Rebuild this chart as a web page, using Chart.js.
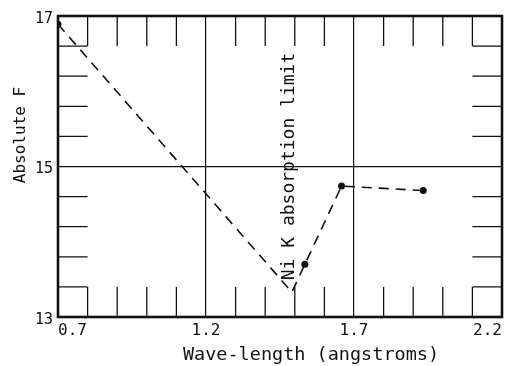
<!DOCTYPE html>
<html>
<head>
<meta charset="utf-8">
<script src="https://cdn.jsdelivr.net/npm/chart.js@4/dist/chart.umd.min.js"></script>
<style>
  html, body { margin: 0; padding: 0; background: #fff; }
  #c { display: block; }
</style>
</head>
<body>
<canvas id="c" width="509" height="366"></canvas>
<script>
// ---- data ----
const curveWave = [0.70, 1.49, 1.534, 1.658, 1.934];   // dashed curve (incl. edge vertex)
const curveF    = [16.89, 13.33, 13.70, 14.74, 14.68];
const measuredWave = [0.70, 1.534, 1.658, 1.934];       // plotted dots
const measuredF    = [16.89, 13.70, 14.74, 14.68];
const xTickLabels = ['0.7', '1.2', '1.7', '2.2'];
const yTickLabels = ['13', '15', '17'];
const xMinorTicks = [0.8, 0.9, 1.0, 1.1, 1.3, 1.4, 1.5, 1.6, 1.8, 1.9, 2.0, 2.1];
const yMinorTicks = [13.4, 13.8, 14.2, 14.6, 15.4, 15.8, 16.2, 16.6];
const edgeLabel = 'Ni K absorption limit';
const edgeLabelX = 1.48;
const xTitle = 'Wave-length (angstroms)';
const yTitle = 'Absolute F';

const FONT = "'DejaVu Sans Mono', 'Liberation Mono', monospace";
const INK = '#111';

const xTickValues = xTickLabels.map(Number);
const yTickValues = yTickLabels.map(Number);

const framePlugin = {
  id: 'frame',
  beforeDatasetsDraw(chart) {
    const { ctx, chartArea: a, scales: { x, y } } = chart;
    const cellX = x.getPixelForValue(0.8) - x.getPixelForValue(0.7);
    const cellY = y.getPixelForValue(13) - y.getPixelForValue(13.4);
    ctx.save();
    ctx.strokeStyle = INK;
    ctx.lineWidth = 1.3;
    ctx.beginPath();
    xMinorTicks.forEach(v => {
      const px = x.getPixelForValue(v);
      ctx.moveTo(px, a.bottom); ctx.lineTo(px, a.bottom - cellY);
      ctx.moveTo(px, a.top); ctx.lineTo(px, a.top + cellY);
    });
    yMinorTicks.forEach(v => {
      const py = y.getPixelForValue(v);
      ctx.moveTo(a.left, py); ctx.lineTo(a.left + cellX, py);
      ctx.moveTo(a.right, py); ctx.lineTo(a.right - cellX, py);
    });
    ctx.stroke();
    ctx.lineWidth = 2.6;
    ctx.strokeRect(a.left, a.top, a.right - a.left, a.bottom - a.top);
    ctx.restore();
  },
  afterDraw(chart) {
    const { ctx, chartArea: a, scales: { x, y } } = chart;
    ctx.save();
    ctx.fillStyle = INK;
    // edge annotation
    ctx.save();
    ctx.translate(x.getPixelForValue(edgeLabelX), (a.top + a.bottom) / 2);
    ctx.rotate(-Math.PI / 2);
    ctx.font = '18px ' + FONT;
    ctx.textAlign = 'center';
    ctx.textBaseline = 'middle';
    ctx.fillText(edgeLabel, 0, 0);
    ctx.restore();
    // y title
    ctx.save();
    ctx.translate(21, 135);
    ctx.rotate(-Math.PI / 2);
    ctx.font = '16px ' + FONT;
    ctx.textAlign = 'center';
    ctx.textBaseline = 'middle';
    ctx.fillText(yTitle, 0, 0);
    ctx.restore();
    // x title
    ctx.font = '18.5px ' + FONT;
    ctx.textAlign = 'center';
    ctx.textBaseline = 'alphabetic';
    ctx.fillText(xTitle, 311, 360);
    ctx.restore();
  }
};

new Chart(document.getElementById('c'), {
  type: 'scatter',
  data: {
    datasets: [
      {
        data: curveWave.map((v, i) => ({ x: v, y: curveF[i] })),
        showLine: true,
        borderColor: INK,
        borderWidth: 1.6,
        borderDash: [10, 7],
        pointRadius: 0,
        fill: false
      },
      {
        data: measuredWave.map((v, i) => ({ x: v, y: measuredF[i] })),
        showLine: false,
        pointRadius: 3.5,
        pointBackgroundColor: INK,
        pointBorderColor: INK,
        pointBorderWidth: 0
      }
    ]
  },
  options: {
    responsive: false,
    animation: false,
    devicePixelRatio: 1,
    layout: { padding: { top: 16, right: 7, left: 0, bottom: 0 } },
    plugins: { legend: { display: false }, tooltip: { enabled: false } },
    scales: {
      x: {
        type: 'linear',
        min: xTickValues[0],
        max: xTickValues[xTickValues.length - 1],
        afterBuildTicks: s => { s.ticks = xTickValues.map(v => ({ value: v })); },
        afterFit: s => { s.height = 49; },
        grid: { color: INK, lineWidth: 1.2, drawTicks: false },
        border: { display: false },
        ticks: {
          align: 'inner',
          padding: 4,
          color: INK,
          font: { family: FONT, size: 16 },
          callback: (v) => xTickLabels[xTickValues.indexOf(v)] ?? ''
        }
      },
      y: {
        type: 'linear',
        min: yTickValues[0],
        max: yTickValues[yTickValues.length - 1],
        afterBuildTicks: s => { s.ticks = yTickValues.map(v => ({ value: v })); },
        afterFit: s => { s.width = 58; },
        grid: { color: INK, lineWidth: 1.2, drawTicks: false },
        border: { display: false },
        ticks: {
          padding: 5,
          labelOffset: 3,
          color: INK,
          font: { family: FONT, size: 15 },
          callback: (v) => yTickLabels[yTickValues.indexOf(v)] ?? ''
        }
      }
    }
  },
  plugins: [framePlugin]
});
</script>
</body>
</html>
